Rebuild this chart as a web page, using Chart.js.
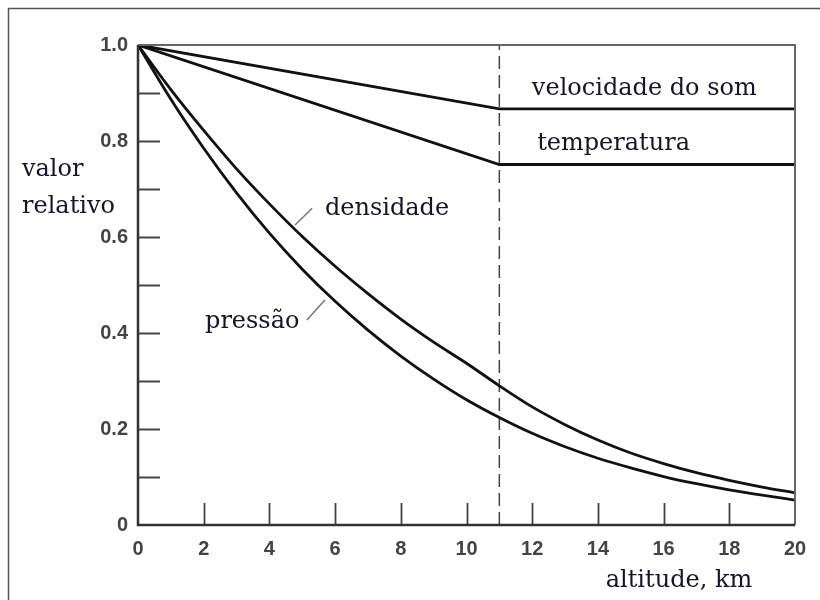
<!DOCTYPE html>
<html>
<head>
<meta charset="utf-8">
<script src="https://cdn.jsdelivr.net/npm/chart.js@4.4.1/dist/chart.umd.min.js"></script>
<style>
  html, body { margin: 0; padding: 0; background: #fff; }
  #wrap { width: 820px; height: 600px; position: relative; }
</style>
</head>
<body>
<div id="wrap"><canvas id="atm" width="820" height="600"></canvas></div>
<script>
// altitude (km) and relative values
var altitude = [0, 1, 2, 3, 4, 5, 6, 7, 8, 9, 10, 11, 12, 13, 14, 15, 16, 17, 18, 19, 20];
var pressao = [1, 0.887, 0.785, 0.692, 0.608, 0.533, 0.466, 0.406, 0.352, 0.304, 0.261, 0.224,
               0.191, 0.163, 0.139, 0.119, 0.101, 0.086, 0.073, 0.062, 0.052];
var densidade = [1, 0.907, 0.822, 0.742, 0.669, 0.601, 0.539, 0.482, 0.429, 0.381, 0.337, 0.290,
                 0.246, 0.209, 0.177, 0.150, 0.128, 0.109, 0.093, 0.079, 0.067];
var altLinear = [0, 11, 20];
var temperatura = [1, 0.751, 0.751];
var velocidadeSom = [1, 0.867, 0.867];
var tropopausa = 11;

var yTicks = [0, 0.1, 0.2, 0.3, 0.4, 0.5, 0.6, 0.7, 0.8, 0.9, 1.0];
var xTicks = [0, 2, 4, 6, 8, 10, 12, 14, 16, 18, 20];

function pts(xs, ys) {
    return xs.map(function (x, i) { return { x: x, y: ys[i] }; });
}

// text labels placed in data units
var notes = [
    { text: 'velocidade do som', x: 11.99, y: 0.896 },
    { text: 'temperatura', x: 12.15, y: 0.781 },
    { text: 'densidade', x: 5.69, y: 0.646 },
    { text: 'press\u00e3o', x: 2.04, y: 0.410 }
];
var leaders = [
    [4.78, 0.625, 5.30, 0.660],
    [5.14, 0.427, 5.69, 0.469]
];

var serif = '"DejaVu Serif", serif';
var ink = '#15152a';

var framePlugin = {
    id: 'frame',
    beforeDraw: function (chart) {
        var c = chart.ctx;
        c.save();
        c.fillStyle = '#fff';
        c.fillRect(0, 0, chart.width, chart.height);
        c.strokeStyle = '#555';
        c.lineWidth = 1.5;
        c.strokeRect(8.5, 8.5, 900, 900);
        c.restore();
    },
    afterDraw: function (chart) {
        var c = chart.ctx;
        var xs = chart.scales.x, ys = chart.scales.y;
        var a = chart.chartArea;
        c.save();
        // top and right frame
        c.strokeStyle = '#666';
        c.lineWidth = 2;
        c.beginPath();
        c.moveTo(a.left, a.top);
        c.lineTo(a.right, a.top);
        c.lineTo(a.right, a.bottom);
        c.stroke();
        // inward tick marks
        c.strokeStyle = '#444';
        c.lineWidth = 1.8;
        c.beginPath();
        yTicks.forEach(function (v) {
            if (v <= 0 || v >= 1) return;
            var py = Math.round(ys.getPixelForValue(v)) + 0.5;
            c.moveTo(a.left, py);
            c.lineTo(a.left + 22, py);
        });
        xTicks.forEach(function (v) {
            if (v <= 0 || v >= 20) return;
            var px = Math.round(xs.getPixelForValue(v)) + 0.5;
            c.moveTo(px, a.bottom);
            c.lineTo(px, a.bottom - 22);
        });
        c.stroke();
        // axes
        c.strokeStyle = '#333';
        c.lineWidth = 2.5;
        c.beginPath();
        c.moveTo(a.left, a.top);
        c.lineTo(a.left, a.bottom);
        c.lineTo(a.right, a.bottom);
        c.stroke();
        // leader lines
        c.strokeStyle = '#777';
        c.lineWidth = 1.5;
        c.beginPath();
        leaders.forEach(function (l) {
            c.moveTo(xs.getPixelForValue(l[0]), ys.getPixelForValue(l[1]));
            c.lineTo(xs.getPixelForValue(l[2]), ys.getPixelForValue(l[3]));
        });
        c.stroke();
        // curve labels
        c.fillStyle = ink;
        c.font = '24px ' + serif;
        c.textBaseline = 'alphabetic';
        c.textAlign = 'left';
        notes.forEach(function (n) {
            c.fillText(n.text, xs.getPixelForValue(n.x), ys.getPixelForValue(n.y));
        });
        // axis titles
        c.fillText('valor', 22, 176);
        c.fillText('relativo', 22, 213);
        c.textAlign = 'center';
        c.fillText('altitude, km', 679, 587);
        c.restore();
    }
};

var lineStyle = {
    borderColor: '#111',
    borderWidth: 2.8,
    pointRadius: 0,
    fill: false
};

var tickFont = { family: '"Liberation Sans", Arial, sans-serif', size: 20, weight: 'bold' };

var ctx = document.getElementById('atm');
var atmChart = new Chart(ctx, {
    type: 'line',
    data: {
        datasets: [
            Object.assign({ label: 'pressão', data: pts(altitude, pressao), cubicInterpolationMode: 'monotone' }, lineStyle),
            Object.assign({ label: 'densidade', data: pts(altitude, densidade), cubicInterpolationMode: 'monotone' }, lineStyle),
            Object.assign({ label: 'temperatura', data: pts(altLinear, temperatura), tension: 0 }, lineStyle),
            Object.assign({ label: 'velocidade do som', data: pts(altLinear, velocidadeSom), tension: 0 }, lineStyle),
            {
                label: 'tropopausa',
                data: [{ x: tropopausa, y: 0 }, { x: tropopausa, y: 1 }],
                borderColor: '#444',
                borderWidth: 1.5,
                borderDash: [13, 6],
                pointRadius: 0,
                fill: false
            }
        ]
    },
    options: {
        responsive: false,
        animation: false,
        layout: { padding: { left: 0, top: 45, right: 25, bottom: 0 } },
        plugins: {
            legend: { display: false },
            tooltip: { enabled: false }
        },
        scales: {
            x: {
                type: 'linear',
                min: 0,
                max: 20,
                grid: { display: false, drawTicks: false },
                border: { display: false },
                ticks: {
                    stepSize: 2,
                    padding: 12,
                    color: '#444',
                    font: tickFont,
                    maxRotation: 0
                },
                afterFit: function (scale) { scale.height = 75; }
            },
            y: {
                type: 'linear',
                min: 0,
                max: 1,
                grid: { display: false, drawTicks: false },
                border: { display: false },
                ticks: {
                    stepSize: 0.1,
                    padding: 10,
                    color: '#444',
                    font: tickFont,
                    callback: function (v) {
                        var k = Math.round(v * 10);
                        if (k % 2 !== 0) return '';
                        return k === 0 ? '0' : (k / 10).toFixed(1);
                    }
                },
                afterFit: function (scale) { scale.width = 138; }
            }
        }
    },
    plugins: [framePlugin]
});
</script>
</body>
</html>
